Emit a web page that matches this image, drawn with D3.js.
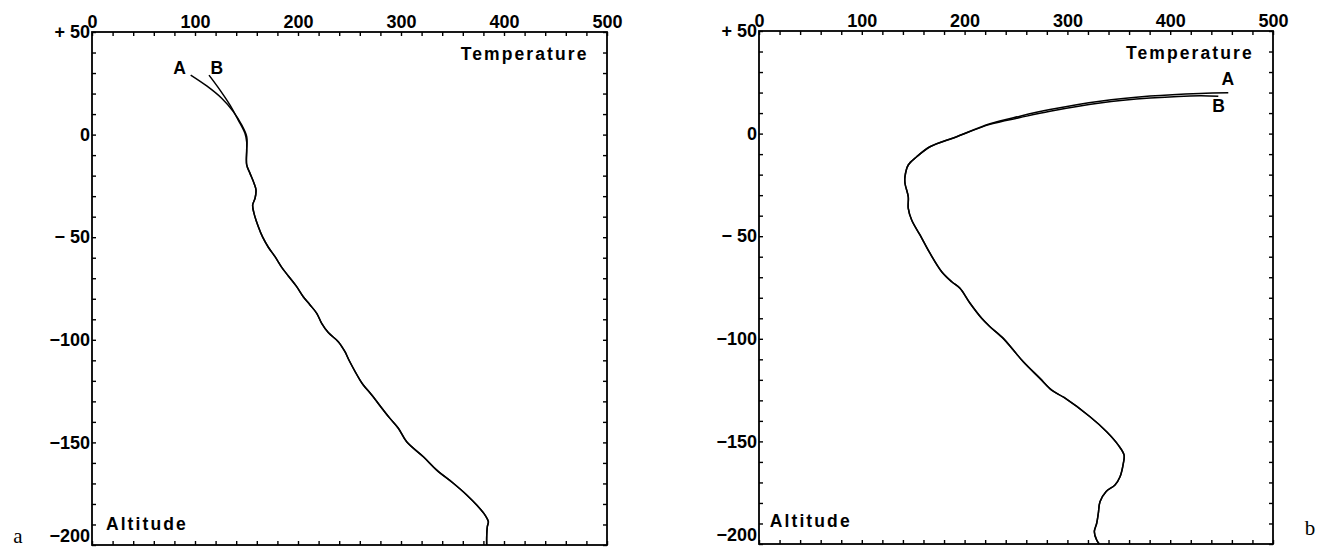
<!DOCTYPE html>
<html>
<head>
<meta charset="utf-8">
<script src="https://cdn.jsdelivr.net/npm/d3@7"></script>
<style>
  body { margin: 0; background: #fff; }
  svg { display: block; }
  .tick text { font-family: "Liberation Sans", Arial, sans-serif; font-weight: bold; font-size: 18px; fill: #000; }
  .tick line { stroke: #000; stroke-width: 1.4; }
  .lbl { font-family: "Liberation Sans", Arial, sans-serif; font-weight: bold; font-size: 17.5px; letter-spacing: 2.1px; }
  .plabel { font-family: "Liberation Serif", "Times New Roman", serif; font-size: 21px; }
</style>
</head>
<body>
<svg id="chart" width="1320" height="548"></svg>
<script>
// axis ticks
const tempTicks = d3.range(0, 501, 20);
const altTicks = d3.range(-200, 51, 10);
const tempLabels = [0, 100, 200, 300, 400, 500];
const altLabels = { 50: "+ 50", 0: "0", "-50": "\u2212 50", "-100": "\u2212100", "-150": "\u2212150", "-200": "\u2212200" };

// panel a: [temperature, altitude]
const aCurveA = [[95.8, 29.0], [111.4, 23.7], [125.9, 17.7], [137.2, 11.2], [145.3, 4.7], [150.2, -1.0]];
const aCurveB = [[113.6, 29.0], [124.3, 21.7], [134.0, 14.4], [142.0, 7.1], [148.5, 0.6], [150.2, -3.6]];
const aCommon = [
  [150.2, -7.5], [150.2, -14.8], [153.4, -18.9], [157.3, -23.7], [159.2, -27.0], [158.3, -31.0],
  [156.0, -34.3], [157.3, -38.4], [161.5, -44.9], [165.7, -50.0], [171.2, -54.9], [177.7, -59.5],
  [184.2, -64.7], [190.6, -68.9], [198.7, -74.1], [205.1, -79.0], [211.7, -83.0], [218.2, -87.1],
  [223.0, -92.0], [229.4, -96.5], [239.1, -100.9], [245.6, -105.8], [249.8, -110.2], [260.2, -119.6],
  [263.4, -122.0], [271.6, -126.9], [282.8, -134.2], [289.3, -138.3], [297.4, -143.1], [305.5, -149.7],
  [321.7, -157.0], [334.7, -163.5], [350.8, -169.9], [363.8, -175.6], [373.5, -180.5], [381.6, -185.4],
  [384.8, -188.6], [383.8, -191.1], [383.2, -196.0], [383.2, -200.0]
];

// panel b
const bCurveA = [[456.5, 19.9], [429.0, 19.6], [380.4, 18.3], [331.7, 15.8], [283.1, 11.7], [253.9, 8.5], [224.7, 4.8]];
const bCurveB = [[446.8, 18.2], [429.0, 18.5], [380.4, 17.3], [331.7, 14.9], [283.1, 10.9], [253.9, 7.8], [224.7, 4.5]];
const bCommon = [
  [192.3, -1.5], [166.3, -6.4], [153.4, -11.3], [145.2, -15.3], [142.0, -21.0], [142.0, -24.2],
  [145.2, -30.8], [145.2, -36.4], [148.5, -42.1], [156.6, -49.4], [166.3, -58.3], [177.7, -67.3],
  [187.5, -72.2], [195.5, -75.4], [205.3, -82.7], [216.6, -90.0], [224.7, -94.1], [237.6, -99.8],
  [247.4, -105.5], [257.1, -111.2], [273.3, -119.3], [284.7, -125.0], [296.7, -128.6], [322.0, -138.0],
  [338.2, -145.3], [349.5, -151.8], [355.1, -156.6], [354.4, -160.7], [351.2, -167.2], [346.3, -171.2],
  [337.5, -174.5], [331.7, -179.4], [330.1, -185.0], [328.5, -189.9], [326.2, -194.0], [328.5, -198.1],
  [331.0, -200.0]
];

const svg = d3.select("#chart");

const drawPanel = (box, curves, labels, tag) => {
  const x = d3.scaleLinear().domain([0, 500]).range([box.left, box.right]);
  const y = d3.scaleLinear().domain([-200, 50]).range([box.bottom, box.top]);
  const g = svg.append("g");

  const topAxis = d3.axisTop(x).tickValues(tempTicks).tickSize(-4).tickSizeOuter(0).tickPadding(4)
    .tickFormat(d => tempLabels.includes(d) ? d : "");
  const bottomAxis = d3.axisBottom(x).tickValues(tempTicks).tickSize(-4).tickSizeOuter(0).tickFormat("");
  const leftAxis = d3.axisLeft(y).tickValues(altTicks).tickSize(-4).tickSizeOuter(0).tickPadding(2)
    .tickFormat(d => altLabels[d] || "");
  const rightAxis = d3.axisRight(y).tickValues(altTicks).tickSize(-4).tickSizeOuter(0).tickFormat("");

  g.append("g").attr("transform", `translate(0,${box.top})`).call(topAxis);
  g.append("g").attr("transform", `translate(0,${box.bottom})`).call(bottomAxis);
  const ly = g.append("g").attr("transform", `translate(${box.left},0)`).call(leftAxis);
  g.append("g").attr("transform", `translate(${box.right},0)`).call(rightAxis);
  g.selectAll(".domain").remove();
  // lowest label sits a little above its tick so it stays on the page
  ly.selectAll(".tick text").filter(d => d === -200).attr("dy", "-0.2em");

  g.append("rect")
    .attr("x", box.left).attr("y", box.top)
    .attr("width", box.right - box.left).attr("height", box.bottom - box.top)
    .attr("fill", "none").attr("stroke", "#000").attr("stroke-width", 1.8);

  const line = d3.line().x(d => x(d[0])).y(d => y(d[1])).curve(d3.curveCatmullRom);
  curves.forEach(c => {
    g.append("path").attr("d", line(c)).attr("fill", "none")
      .attr("stroke", "#000").attr("stroke-width", 1.5);
  });

  labels.forEach(l => {
    g.append("text").attr("class", "lbl").attr("x", x(l.t)).attr("y", y(l.a))
      .attr("text-anchor", l.anchor || "start").text(l.text);
  });

  g.append("text").attr("class", "plabel").attr("x", tag.x).attr("y", tag.y)
    .attr("text-anchor", "middle").text(tag.text);
};

drawPanel(
  { left: 92, right: 607, top: 32, bottom: 545 },
  [aCurveA.concat(aCommon), aCurveB.concat(aCommon)],
  [
    { text: "Temperature", t: 358, a: 36.5 },
    { text: "Altitude", t: 13.5, a: -192.5 },
    { text: "A", t: 79, a: 29.5 },
    { text: "B", t: 115, a: 29.5 }
  ],
  { text: "a", x: 18, y: 543 }
);

drawPanel(
  { left: 759, right: 1273, top: 31, bottom: 544 },
  [bCurveA.concat(bCommon), bCurveB.concat(bCommon)],
  [
    { text: "Temperature", t: 357, a: 36.5 },
    { text: "Altitude", t: 10.5, a: -191.5 },
    { text: "A", t: 450, a: 23.5 },
    { text: "B", t: 441, a: 10.4 }
  ],
  { text: "b", x: 1310, y: 535 }
);
</script>
</body>
</html>
